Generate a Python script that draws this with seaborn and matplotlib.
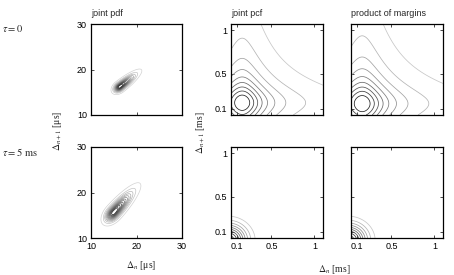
import numpy as np
import matplotlib
matplotlib.use("Agg")
import matplotlib.pyplot as plt
import seaborn as sns

# ---- values ----
row_labels = [r"$\tau = 0$", r"$\tau = 5\ \mathrm{ms}$"]
col_titles = ["joint pdf", "joint pcf", "product of margins"]

us_ticks = [10, 20, 30]
us_lim = (10, 30)
ms_ticks = [0.1, 0.5, 1]
ms_tick_labels = ["0.1", "0.5", "1"]
ms_xlim = (0.03, 1.1)
ms_ylim = (0.03, 1.07)

# joint pdf in microseconds (one entry per row): mode, ridge angle,
# spread below / above the mode along the ridge, spread across it
us_mode = [(16.3, 16.2), (15.0, 15.6)]
us_angle = [38, 48]
us_spread_lo = [0.85, 1.4]
us_spread_hi = [2.4, 3.4]
us_spread_across = [0.55, 0.8]
us_levels = [0.04, 0.12, 0.2, 0.28, 0.36, 0.44, 0.52, 0.6, 0.68, 0.76, 0.84, 0.92]

# tau = 0, millisecond panels: heavy tailed margins (centre, scale, power)
ms_center = [(0.16, 0.17), (0.16, 0.16)]   # joint pcf, product of margins
ms_scale = [0.20, 0.21]
ms_power = [0.6, 0.6]
# tau = 5 ms, millisecond panels: bump in the corner (spread x, spread y)
ms5_spread = [(0.145, 0.13), (0.145, 0.13)]
ms_levels = [0.1, 0.2, 0.3, 0.4, 0.5, 0.6, 0.7, 0.8, 0.9]

W, H = 454, 275
panel_x = [(91, 91), (231, 92), (351, 92)]   # left, width in px
row_y = [(24, 91), (147, 91)]                 # top, height in px


def skewed_ridge(X, Y, mode, angle, lo, hi, across):
    t = np.deg2rad(angle)
    u = (X - mode[0]) * np.cos(t) + (Y - mode[1]) * np.sin(t)
    v = -(X - mode[0]) * np.sin(t) + (Y - mode[1]) * np.cos(t)
    su = np.where(u < 0, lo, hi)
    return np.exp(-0.5 * ((u / su) ** 2 + (v / across) ** 2))


def heavy_margins(X, Y, center, scale, power):
    gx = (1 + ((X - center[0]) / scale) ** 2) ** -power
    gy = (1 + ((Y - center[1]) / scale) ** 2) ** -power
    return gx * gy


def corner_bump(X, Y, spread):
    return np.exp(-0.5 * ((X / spread[0]) ** 2 + (Y / spread[1]) ** 2))


def greys(levels):
    # higher level -> darker line
    return [str(round(0.85 * (1 - q) ** 0.8, 3)) for q in levels]


sns.set_style("ticks")
plt.rcParams.update({
    "font.family": ["Liberation Sans", "DejaVu Sans"],
    "mathtext.fontset": "stix",
    "xtick.direction": "in", "ytick.direction": "in",
    "xtick.top": True, "ytick.right": True,
    "xtick.major.size": 2.5, "ytick.major.size": 2.5,
    "xtick.major.width": 0.5, "ytick.major.width": 0.5,
    "xtick.major.pad": 3, "ytick.major.pad": 3,
    "axes.linewidth": 0.9, "axes.edgecolor": "black",
})

fig = plt.figure(figsize=(W / 100, H / 100), dpi=100)

ux = np.linspace(*us_lim, 400)
UX, UY = np.meshgrid(ux, ux)
mx = np.linspace(ms_xlim[0], ms_xlim[1], 400)
my = np.linspace(ms_ylim[0], ms_ylim[1], 400)
MX, MY = np.meshgrid(mx, my)

for r in range(2):
    top, h = row_y[r]
    for c in range(3):
        left, w = panel_x[c]
        ax = fig.add_axes([left / W, 1 - (top + h) / H, w / W, h / H])
        if c == 0:
            Z = skewed_ridge(UX, UY, us_mode[r], us_angle[r], us_spread_lo[r],
                             us_spread_hi[r], us_spread_across[r])
            ax.contour(UX, UY, Z, levels=us_levels, colors=greys(us_levels),
                       linewidths=0.5)
            ax.set_xlim(us_lim)
            ax.set_ylim(us_lim)
            ax.set_xticks(us_ticks)
            ax.set_yticks(us_ticks)
        else:
            if r == 0:
                Z = heavy_margins(MX, MY, ms_center[c - 1], ms_scale[c - 1], ms_power[c - 1])
            else:
                Z = corner_bump(MX, MY, ms5_spread[c - 1])
            ax.contour(MX, MY, Z, levels=ms_levels, colors=greys(ms_levels),
                       linewidths=0.55)
            ax.set_xlim(ms_xlim)
            ax.set_ylim(ms_ylim)
            ax.set_xticks(ms_ticks)
            ax.set_yticks(ms_ticks)
            ax.set_xticklabels(ms_tick_labels)
            ax.set_yticklabels(ms_tick_labels)
        ax.tick_params(labelsize=6.5, colors="black")
        if r == 0:
            ax.tick_params(labelbottom=False)
        if c == 2:
            ax.tick_params(labelleft=False)
        if r == 0:
            fig.text(left / W, 1 - 16 / H, col_titles[c], fontsize=6.5,
                     ha="left", va="baseline")

serif = ["Liberation Serif", "DejaVu Serif"]
fig.text(2 / W, 1 - 28 / H, row_labels[0], fontsize=7.5, ha="left", va="center", family=serif)
fig.text(2 / W, 1 - 152 / H, row_labels[1], fontsize=7.5, ha="left", va="center", family=serif)
fig.text(58 / W, 1 - 131 / H, r"$\Delta_{n+1}$ [μs]", fontsize=7, rotation=90,
         ha="center", va="center", family=serif)
fig.text(201 / W, 1 - 133 / H, r"$\Delta_{n+1}$ [ms]", fontsize=7, rotation=90,
         ha="center", va="center", family=serif)
fig.text(141 / W, 1 - 266 / H, r"$\Delta_n$ [μs]", fontsize=7, ha="center",
         va="center", family=serif)
fig.text(334 / W, 1 - 269 / H, r"$\Delta_n$ [ms]", fontsize=7, ha="center",
         va="center", family=serif)

fig.savefig("out.png", dpi=100)
